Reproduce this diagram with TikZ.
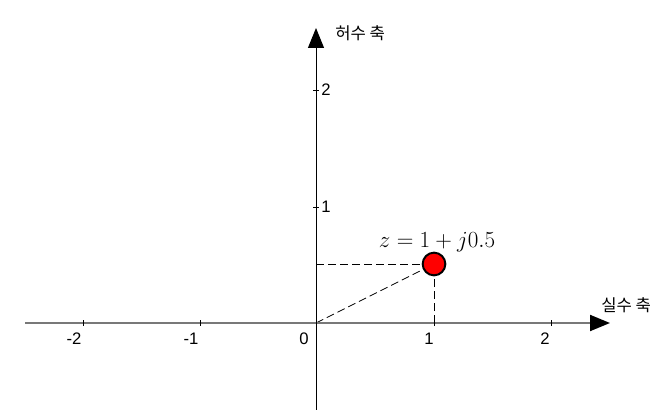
\documentclass[tikz,border=0pt]{standalone}
\usepackage{fontspec}
\setmainfont{Liberation Sans}
\newfontfamily\kr{Noto Sans CJK KR}
\usetikzlibrary{arrows.meta}
\begin{document}
\begin{tikzpicture}[x=0.75pt,y=-0.75pt,
  axisx/.style={draw={rgb,255:red,120;green,120;blue,120},line width=1.5pt,-{Triangle[length=15pt,width=12pt,color=black]}},
  axisy/.style={draw=black,line width=0.75pt,-{Triangle[length=15pt,width=12pt]}},
  tick/.style={draw=black,line width=0.6pt},
  ticklab/.style={font=\fontsize{12.5}{14}\selectfont,inner sep=0pt},
  axlab/.style={font=\kr\fontsize{12.5}{14}\selectfont,inner sep=0pt,anchor=west},
  guide/.style={draw=black,line width=0.6pt,dash pattern=on 6pt off 3pt},
  pt/.style={circle,draw=black,line width=1.5pt,fill=red,minimum size=17pt,inner sep=0pt}]
\useasboundingbox (0,0) rectangle (668,410);
\coordinate (O) at (316,323);
\coordinate (xs) at (25,323);
\coordinate (xe) at (610,323);
\coordinate (ys) at (316,410);
\coordinate (ye) at (316,28);
\coordinate (px) at (434,323);
\coordinate (py) at (316,264);
% point
\node[pt] (P) at (434,264) {};
% guides
\draw[guide] (py) -- (P.west);
\draw[guide] (px) -- (P.south);
\draw[guide] (O) -- (P);
% axes
\draw[axisx] (xs) -- (xe);
\draw[axisy] (ys) -- (ye);
% ticks
\foreach \x in {83,200,434,551}{
  \draw[tick] (\x,320) -- (\x,326);
}
\foreach \y in {207,90}{
  \draw[tick] (313,\y) -- (319,\y);
}
\node[ticklab] (lm2) at (74,339) {-2};
\node[ticklab] (lm1) at (191,339) {-1};
\node[ticklab] (l0) at (304,339) {0};
\node[ticklab] (l1) at (429,339) {1};
\node[ticklab] (l2) at (545,339) {2};
\node[ticklab] (ly1) at (326,207) {1};
\node[ticklab] (ly2) at (326,90) {2};
\node[axlab] (ima) at (335,33) {허수 축};
\node[axlab] (rea) at (601,305) {실수 축};
\node[font=\fontsize{16}{18}\selectfont,inner sep=0pt] (zl) at (437,242) {$z=1+j0.5$};
\end{tikzpicture}
\end{document}
